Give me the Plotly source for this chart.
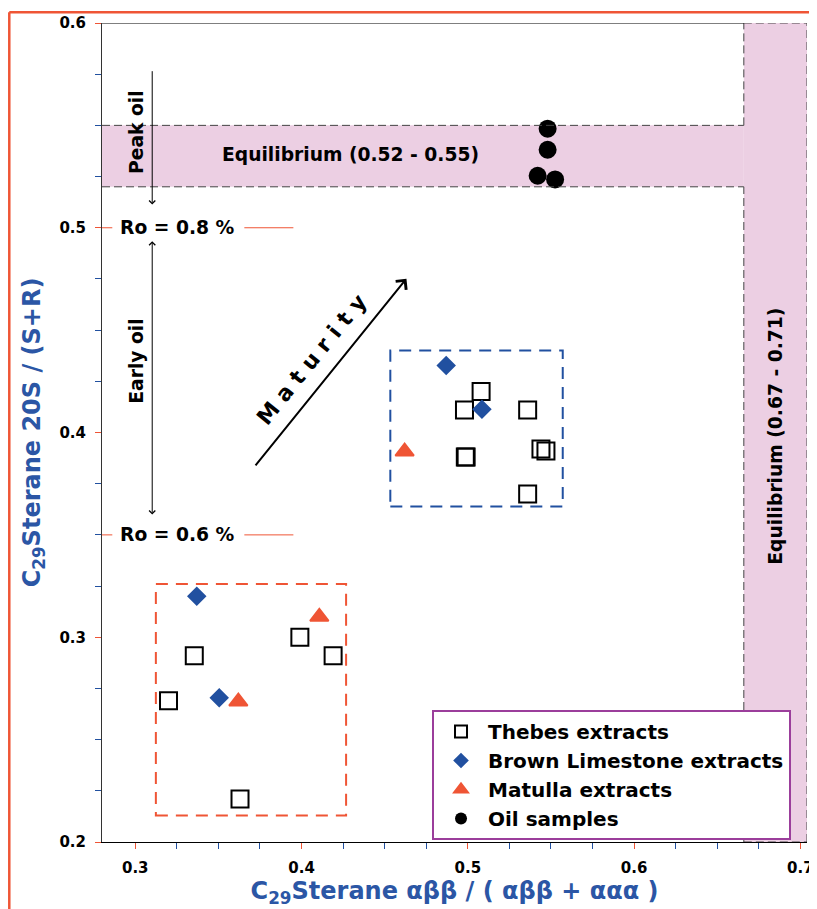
import plotly.graph_objects as go

# ---------------- data ----------------
thebes_x = [0.508, 0.498, 0.536, 0.4985, 0.499, 0.544, 0.547, 0.536, 0.3355, 0.320, 0.399, 0.419, 0.363]
thebes_y = [0.420, 0.411, 0.411, 0.388, 0.388, 0.392, 0.391, 0.370, 0.291, 0.269, 0.300, 0.291, 0.221]
brown_x = [0.337, 0.3505, 0.487, 0.5085]
brown_y = [0.320, 0.2705, 0.4327, 0.4114]
matulla_x = [0.4107, 0.362, 0.462]
matulla_y = [0.310, 0.2686, 0.3907]
oil_x = [0.548, 0.548, 0.542, 0.5525]
oil_y = [0.5484, 0.5381, 0.5254, 0.5236]

x_ticks = [0.3, 0.4, 0.5, 0.6, 0.7]
y_ticks = [0.2, 0.3, 0.4, 0.5, 0.6]

X_RANGE = [0.28, 0.704]
Y_RANGE = [0.2, 0.6]
EQ_H = (0.52, 0.55)      # horizontal equilibrium band (y)
EQ_V = (0.666, 0.704)    # vertical equilibrium band (x)

RED = "#EF5535"
BLUE = "#2150A0"
TITLE_BLUE = "#2B56A5"
PINK = "#ECCFE3"
PURPLE = "#9B3E9B"
FONT = "DejaVu Sans"

fig = go.Figure()

fig.add_trace(go.Scatter(x=thebes_x, y=thebes_y, mode="markers", name="Thebes extracts",
                         marker=dict(symbol="square-open", size=17, color="black", line=dict(width=2))))
fig.add_trace(go.Scatter(x=brown_x, y=brown_y, mode="markers", name="Brown Limestone extracts",
                         marker=dict(symbol="diamond", size=15, color=BLUE)))
fig.add_trace(go.Scatter(x=matulla_x, y=matulla_y, mode="markers", name="Matulla extracts",
                         marker=dict(symbol="triangle-up", size=16, color=RED,
                                     line=dict(color=RED, width=2))))
fig.add_trace(go.Scatter(x=oil_x, y=oil_y, mode="markers", name="Oil samples",
                         marker=dict(symbol="circle", size=18, color="black")))

shapes = []
# pink bands
shapes.append(dict(type="rect", xref="x", yref="y", x0=X_RANGE[0], x1=EQ_V[0], y0=EQ_H[0], y1=EQ_H[1],
                   fillcolor=PINK, line=dict(width=0), layer="below"))
shapes.append(dict(type="rect", xref="x", yref="y", x0=EQ_V[0], x1=EQ_V[1], y0=Y_RANGE[0], y1=Y_RANGE[1],
                   fillcolor=PINK, line=dict(width=0), layer="below"))
dash_line = dict(color="#444444", width=1, dash="8px,4px")
segs = [
    (X_RANGE[0], EQ_H[1], EQ_V[0], EQ_H[1]),
    (X_RANGE[0], EQ_H[0], EQ_V[0], EQ_H[0]),
    (EQ_V[0], EQ_H[1], EQ_V[0], Y_RANGE[1]),
    (EQ_V[0], Y_RANGE[0], EQ_V[0], EQ_H[0]),
    (EQ_V[0], Y_RANGE[1], EQ_V[1], Y_RANGE[1]),
    (EQ_V[1], Y_RANGE[0], EQ_V[1], Y_RANGE[1]),
    (EQ_V[0], Y_RANGE[0], EQ_V[1], Y_RANGE[0]),
]
for x0, y0, x1, y1 in segs:
    shapes.append(dict(type="line", xref="x", yref="y", x0=x0, y0=y0, x1=x1, y1=y1, line=dash_line))
# solid top border of the plot area
shapes.append(dict(type="line", xref="x", yref="y", x0=X_RANGE[0], y0=Y_RANGE[1], x1=EQ_V[0], y1=Y_RANGE[1],
                   line=dict(color="black", width=1)))
# dashed group boxes
shapes.append(dict(type="rect", xref="x", yref="y", x0=0.4534, x1=0.5571, y0=0.3638, y1=0.44,
                   line=dict(color=BLUE, width=2, dash="12px,8px")))
shapes.append(dict(type="rect", xref="x", yref="y", x0=0.3124, x1=0.4268, y0=0.2129, y1=0.326,
                   line=dict(color=RED, width=2, dash="12px,8px")))
# Ro reference lines
for yv in (0.5, 0.35):
    shapes.append(dict(type="line", xref="x", yref="y", x0=X_RANGE[0], x1=0.2862, y0=yv, y1=yv,
                       line=dict(color=RED, width=1)))
    shapes.append(dict(type="line", xref="x", yref="y", x0=0.3656, x1=0.3951, y0=yv, y1=yv,
                       line=dict(color=RED, width=1)))
# outer red frame
shapes.append(dict(type="line", xref="paper", yref="paper", x0=-0.1315, x1=-0.1315, y0=-0.2, y1=1.0131,
                   line=dict(color=RED, width=2.5)))
shapes.append(dict(type="line", xref="paper", yref="paper", x0=-0.1315, x1=1.03, y0=1.0131, y1=1.0131,
                   line=dict(color=RED, width=2.5)))

bold = dict(family=FONT, size=18.7, color="black", weight="bold")
annotations = [
    dict(x=0.4296, y=0.5357, text="Equilibrium (0.52 - 0.55)", showarrow=False, font=bold),
    dict(x=0.6854, y=0.398, text="Equilibrium (0.67 - 0.71)", showarrow=False, font=bold, textangle=-90),
    dict(x=0.3006, y=0.5469, text="Peak oil", showarrow=False, font=bold, textangle=-90),
    dict(x=0.3006, y=0.4347, text="Early oil", showarrow=False, font=bold, textangle=-90),
    dict(x=0.3256, y=0.5, text="Ro = 0.8 %", showarrow=False, font=bold),
    dict(x=0.3256, y=0.35, text="Ro = 0.6 %", showarrow=False, font=bold),
    dict(x=0.4062, y=0.4355, text="M a t u r i t y", showarrow=False,
         font=dict(family=FONT, size=22, color="black", weight="bold"), textangle=-51),
    # arrows
    dict(x=0.3102, y=0.5113, ax=0.3102, ay=0.5772, axref="x", ayref="y", text="", showarrow=True,
         arrowhead=4, arrowsize=1.2, arrowwidth=1, arrowcolor="black"),
    dict(x=0.3102, y=0.3599, ax=0.3102, ay=0.4942, axref="x", ayref="y", text="", showarrow=True,
         arrowhead=4, startarrowhead=4, arrowside="end+start", arrowsize=1.2, startarrowsize=1.2,
         arrowwidth=1, arrowcolor="black"),
    dict(x=0.4631, y=0.4751, ax=0.3716, ay=0.3832, axref="x", ayref="y", text="", showarrow=True,
         arrowhead=4, arrowsize=1.3, arrowwidth=2, arrowcolor="black"),
]
for a in annotations:
    a.setdefault("xref", "x")
    a.setdefault("yref", "y")

tickfont = dict(family=FONT, size=15, color="black", weight="bold")

# the page body adds an 8px offset, so the figure is 8px smaller and margins shifted
fig.update_layout(
    width=809, height=901,
    margin=dict(l=94, r=10, t=15, b=67, autoexpand=False),
    paper_bgcolor="white", plot_bgcolor="white",
    shapes=shapes, annotations=annotations,
    showlegend=True,
    legend=dict(x=0.4681, y=0.1612, xanchor="left", yanchor="top",
                bgcolor="white", bordercolor=PURPLE, borderwidth=2,
                font=dict(family=FONT, size=20, color="black", weight="bold"),
                itemsizing="constant", itemwidth=44, tracegroupgap=0),
    xaxis=dict(range=X_RANGE, tickvals=x_ticks, ticktext=[f"{v:.1f}" for v in x_ticks],
               automargin=False,
               showgrid=False, zeroline=False, showline=True, linecolor="black", linewidth=1,
               ticks="outside", ticklen=6, tickcolor=RED, tickfont=tickfont, ticklabelstandoff=6,
               minor=dict(dtick=0.025, tick0=0.3, ticks="outside", ticklen=6, tickcolor=BLUE, showgrid=False),
               title=dict(text="C<sub>29</sub>Sterane αββ / ( αββ + ααα )",
                          font=dict(family=FONT, size=24, color=TITLE_BLUE, weight="bold"), standoff=6)),
    yaxis=dict(range=Y_RANGE, tickvals=y_ticks, ticktext=[f"{v:.1f}" for v in y_ticks],
               automargin=False,
               showgrid=False, zeroline=False, showline=True, linecolor="#333333", linewidth=1,
               ticks="outside", ticklen=6, tickcolor=RED, tickfont=tickfont, ticklabelstandoff=6,
               minor=dict(dtick=0.025, tick0=0.2, ticks="outside", ticklen=6, tickcolor=BLUE, showgrid=False),
               title=dict(text="C<sub>29</sub>Sterane 20S / (S+R)",
                          font=dict(family=FONT, size=24, color=TITLE_BLUE, weight="bold"), standoff=12)),
)

fig.write_html("out.html")
